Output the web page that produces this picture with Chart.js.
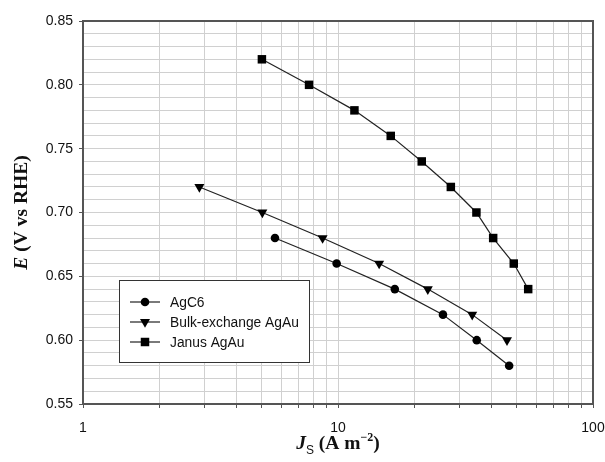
<!DOCTYPE html>
<html>
<head>
<meta charset="utf-8">
<script src="https://cdn.jsdelivr.net/npm/chart.js@4/dist/chart.umd.min.js"></script>
<style>
  html, body { margin: 0; padding: 0; background: #fff; }
  #wrap { width: 605px; height: 462px; }
</style>
</head>
<body>
<div id="wrap"><canvas id="polChart" width="605" height="462"></canvas></div>
<script>
// Data (Js in A m^-2, E in V vs RHE)
const agc6Js = [5.66, 9.88, 16.7, 25.8, 35.0, 46.9];
const agc6E = [0.68, 0.66, 0.64, 0.62, 0.60, 0.58];

const bulkJs = [2.86, 5.05, 8.7, 14.5, 22.5, 33.6, 46.0];
const bulkE = [0.72, 0.70, 0.68, 0.66, 0.64, 0.62, 0.60];

const janusJs = [5.03, 7.7, 11.6, 16.1, 21.3, 27.7, 34.9, 40.6, 48.9, 55.7];
const janusE = [0.82, 0.80, 0.78, 0.76, 0.74, 0.72, 0.70, 0.68, 0.66, 0.64];

const xTickLabels = [1, 10, 100];
const yTickLabels = [0.55, 0.60, 0.65, 0.70, 0.75, 0.80, 0.85];

const seriesNames = ['AgC6', 'Bulk-exchange AgAu', 'Janus AgAu'];

function toPoints(xs, ys) {
    return xs.map((x, i) => ({ x: x, y: ys[i] }));
}

function isMajorY(v) {
    return yTickLabels.some(t => Math.abs(t - v) < 1e-6);
}

// legend drawn inside the plot, lower left
const insideLegend = {
    id: 'insideLegend',
    afterDraw(chart) {
        const ctx = chart.ctx;
        const x0 = 119, y0 = 280, w = 190, h = 82;
        ctx.save();
        ctx.fillStyle = '#fff';
        ctx.fillRect(x0, y0, w, h);
        ctx.strokeStyle = '#333';
        ctx.lineWidth = 1;
        ctx.strokeRect(x0 + 0.5, y0 + 0.5, w, h);
        chart.data.datasets.forEach((ds, i) => {
            const cy = y0 + 22 + i * 20;
            ctx.strokeStyle = '#222';
            ctx.lineWidth = 1.2;
            ctx.beginPath();
            ctx.moveTo(130, cy);
            ctx.lineTo(160, cy);
            ctx.stroke();
            ctx.fillStyle = '#000';
            Chart.helpers.drawPoint(ctx, {
                pointStyle: ds.pointStyle,
                radius: ds.pointRadius,
                rotation: ds.pointRotation || 0,
                borderWidth: 0
            }, 145, cy);
            ctx.fillStyle = '#111';
            ctx.font = '13.8px "Liberation Sans", Arial, sans-serif';
            ctx.textBaseline = 'middle';
            ctx.fillText(ds.label, 170, cy + 1);
        });
        ctx.restore();
    }
};

// axis titles with italic symbols, subscript and superscript
const axisTitles = {
    id: 'axisTitles',
    afterDraw(chart) {
        const ctx = chart.ctx;
        const area = chart.chartArea;
        const bold = 'bold 19.5px "Liberation Serif", "Times New Roman", serif';
        const boldIt = 'italic bold 19.5px "Liberation Serif", "Times New Roman", serif';
        ctx.save();
        ctx.fillStyle = '#111';
        ctx.textBaseline = 'alphabetic';

        // y title
        ctx.save();
        ctx.translate(27, (area.top + area.bottom) / 2);
        ctx.rotate(-Math.PI / 2);
        ctx.font = boldIt;
        const wE = ctx.measureText('E').width;
        ctx.font = bold;
        const rest = ' (V vs RHE)';
        const wR = ctx.measureText(rest).width;
        let sx = -(wE + wR) / 2;
        ctx.font = boldIt;
        ctx.fillText('E', sx, 0);
        ctx.font = bold;
        ctx.fillText(rest, sx + wE, 0);
        ctx.restore();

        // x title
        const parts = [
            { t: 'J', f: boldIt, dy: 0 },
            { t: 'S', f: '12px "Liberation Sans", Arial, sans-serif', dy: 5 },
            { t: ' (A m', f: bold, dy: 0 },
            { t: '\u22122', f: 'bold 12px "Liberation Serif", serif', dy: -8 },
            { t: ')', f: bold, dy: 0 }
        ];
        let total = 0;
        parts.forEach(p => { ctx.font = p.f; p.w = ctx.measureText(p.t).width; total += p.w; });
        let px = (area.left + area.right) / 2 - total / 2;
        const by = 449;
        parts.forEach(p => {
            ctx.font = p.f;
            ctx.fillText(p.t, px, by + p.dy);
            px += p.w;
        });
        ctx.restore();
    }
};

const ctx = document.getElementById('polChart').getContext('2d');
new Chart(ctx, {
    type: 'scatter',
    data: {
        datasets: [{
            label: seriesNames[0],
            data: toPoints(agc6Js, agc6E),
            pointStyle: 'circle',
            pointRadius: 4.3,
            pointRotation: 0
        }, {
            label: seriesNames[1],
            data: toPoints(bulkJs, bulkE),
            pointStyle: 'triangle',
            pointRadius: 5.8,
            pointRotation: 180
        }, {
            label: seriesNames[2],
            data: toPoints(janusJs, janusE),
            pointStyle: 'rect',
            pointRadius: 6,
            pointRotation: 0
        }].map(ds => Object.assign(ds, {
            showLine: true,
            borderColor: '#222',
            borderWidth: 1.2,
            backgroundColor: '#000',
            pointBackgroundColor: '#000',
            pointBorderColor: '#000',
            pointBorderWidth: 0,
            tension: 0
        }))
    },
    options: {
        responsive: false,
        animation: false,
        layout: { padding: { top: 21, right: 12, left: 0, bottom: 0 } },
        plugins: {
            legend: { display: false },
            tooltip: { enabled: false }
        },
        scales: {
            x: {
                type: 'logarithmic',
                min: 1,
                max: 100,
                afterFit: scale => {
                    scale.height = 58;
                    scale.paddingLeft = 0;
                    scale.paddingRight = 0;
                },
                afterBuildTicks: scale => {
                    const ticks = [];
                    [1, 10].forEach(d => {
                        for (let k = 1; k < 10; k++) ticks.push({ value: d * k });
                    });
                    ticks.push({ value: 100 });
                    scale.ticks = ticks;
                },
                border: { display: true, color: '#555', width: 2 },
                grid: {
                    color: '#d0d0d0',
                    lineWidth: 1,
                    tickLength: 4,
                    tickColor: '#555'
                },
                ticks: {
                    autoSkip: false,
                    maxRotation: 0,
                    padding: 12,
                    color: '#111',
                    font: { family: '"Liberation Sans", Arial, sans-serif', size: 14 },
                    callback: v => xTickLabels.includes(v) ? String(v) : ''
                }
            },
            y: {
                min: 0.55,
                max: 0.85,
                afterFit: scale => {
                    scale.width = 83;
                    scale.paddingTop = 0;
                    scale.paddingBottom = 0;
                },
                border: { display: true, color: '#555', width: 2 },
                grid: {
                    color: '#d0d0d0',
                    lineWidth: 1,
                    tickLength: 4,
                    tickColor: c => isMajorY(c.tick.value) ? '#555' : 'rgba(0,0,0,0)'
                },
                ticks: {
                    stepSize: 0.01,
                    autoSkip: false,
                    padding: 6,
                    color: '#111',
                    font: { family: '"Liberation Sans", Arial, sans-serif', size: 14 },
                    callback: v => isMajorY(v) ? v.toFixed(2) : ''
                }
            }
        }
    },
    plugins: [{
        id: 'frame',
        afterDatasetsDraw(chart) {
            // dark frame around plot area (top and right sides)
            const a = chart.chartArea;
            const c = chart.ctx;
            c.save();
            c.strokeStyle = '#555';
            c.lineWidth = 2;
            c.beginPath();
            c.moveTo(a.left, a.top);
            c.lineTo(a.right, a.top);
            c.lineTo(a.right, a.bottom);
            c.stroke();
            c.restore();
        }
    }, insideLegend, axisTitles]
});
</script>
</body>
</html>
